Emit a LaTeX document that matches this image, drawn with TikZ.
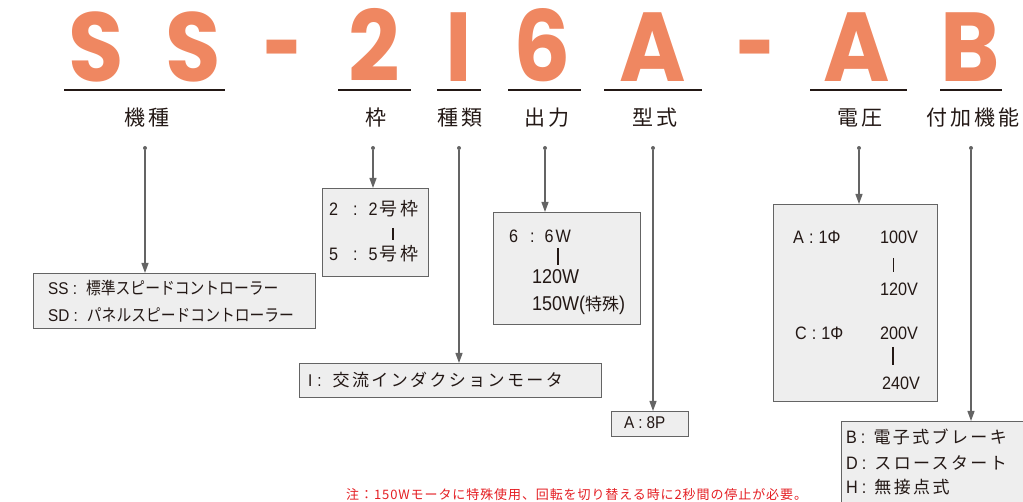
\documentclass[tikz,border=0pt]{standalone}
\usepackage{fontspec}
\setmainfont{Liberation Sans}[FakeStretch=0.9]
\newfontfamily\jp{Noto Sans CJK JP}
\newfontfamily\jpsp{Noto Sans CJK JP}[LetterSpace=14]
\newfontfamily\jpn{Noto Sans CJK JP}[FakeStretch=0.87]
\newfontfamily\jpnote{Noto Sans CJK JP}[LetterSpace=7]
\newfontfamily\codefont{Poppins}[FakeStretch=0.92]
\newcommand{\gap}{\hspace{3pt}}
\usetikzlibrary{arrows.meta,positioning}
\definecolor{codeorange}{RGB}{239,135,97}
\definecolor{boxgray}{RGB}{238,238,238}
\definecolor{linegray}{RGB}{100,100,100}
\definecolor{ink}{RGB}{35,24,21}
\definecolor{notered}{RGB}{228,30,35}
\tikzset{
  letter/.style={anchor=base, inner sep=0, text depth=0pt, text=codeorange, font=\codefont\bfseries\fontsize{98}{98}\selectfont},
  head/.style={inner sep=0, text=ink, font=\jp\fontsize{21}{21}\selectfont},
  uline/.style={line width=1.2pt, ink},
  conn/.style={line width=1.2pt, linegray, -{Triangle[length=10pt,width=7pt]}},
  pin/.style={circle, fill=linegray, inner sep=0, minimum size=4pt},
  codebox/.style={draw=linegray, fill=boxgray, line width=1.2pt, anchor=north west, inner sep=0},
  txt/.style={anchor=west, inner sep=0, text=ink, font=\fontsize{17}{17}\selectfont},
  bar/.style={line width=2.6pt, ink},
}
\begin{document}
\begin{tikzpicture}[x=1pt, y=-1pt]
\clip (0,0) rectangle (1023,502);
% model code
\node[letter] (s1) at (96,82) {S};
\node[letter] (s2) at (193,82) {S};
\node[letter] (dash1) at (283,82) {\scalebox{0.75}[1]{-}};
\node[letter] (frame) at (374,82) {2};
\node[letter] (kind) at (459,82) {I};
\node[letter] (power) at (542,82) {6};
\node[letter] (form) at (653,82) {A};
\node[letter] (dash2) at (756,82) {\scalebox{0.75}[1]{-}};
\node[letter] (volt) at (857,82) {A};
\node[letter] (extra) at (970,82) {B};
\draw[uline] (64,90) -- (225,90);
\draw[uline] (338,90) -- (411,90);
\draw[uline] (437,90) -- (481,90);
\draw[uline] (508,90) -- (581,90);
\draw[uline] (604,90) -- (702,90);
\draw[uline] (810,90) -- (907,90);
\draw[uline] (940,90) -- (1002,90);
% headings
\node[head] (h1) at (147,118) {機\gap 種};
\node[head] (h2) at (376,118) {枠};
\node[head] (h3) at (460,118) {種\gap 類};
\node[head] (h4) at (547,118) {出\gap 力};
\node[head] (h5) at (655,118) {型\gap 式};
\node[head] (h6) at (860,118) {電\gap 圧};
\node[head] (h7) at (973,118) {付\gap 加\gap 機\gap 能};
\node[pin] (p1) at (145,148) {};
\node[pin] (p2) at (373,148) {};
\node[pin] (p3) at (459,148) {};
\node[pin] (p4) at (545,148) {};
\node[pin] (p5) at (653,148) {};
\node[pin] (p6) at (859,148) {};
\node[pin] (p7) at (971,148) {};
% boxes
\node[codebox, minimum width=282pt, minimum height=55pt] (b1) at (33,273) {};
\node[codebox, minimum width=106pt, minimum height=88pt] (b2) at (322,188) {};
\node[codebox, minimum width=302pt, minimum height=34pt] (b3) at (299,363) {};
\node[codebox, minimum width=147pt, minimum height=112pt] (b4) at (493,212) {};
\node[codebox, minimum width=77pt, minimum height=25pt] (b5) at (611,411) {};
\node[codebox, minimum width=164pt, minimum height=197pt] (b6) at (773,204) {};
\node[codebox, minimum width=200pt, minimum height=100pt] (b7) at (841,421) {};
\draw[conn] (p1) -- (p1 |- b1.north);
\draw[conn] (p2) -- (p2 |- b2.north);
\draw[conn] (p3) -- (p3 |- b3.north);
\draw[conn] (p4) -- (p4 |- b4.north);
\draw[conn] (p5) -- (p5 |- b5.north);
\draw[conn] (p6) -- (p6 |- b6.north);
\draw[conn] (p7) -- (p7 |- b7.north);
% box texts
\node[txt] (t11) at (48,288) {SS :\hspace{9pt}{\jpn 標準スピードコントローラー}};
\node[txt] (t12) at (48,315) {SD :\hspace{9pt}{\jpn パネルスピードコントローラー}};
\node[txt, font=\fontsize{18}{18}\selectfont] (t21) at (329,209) {2\hspace{15pt}:\hspace{11pt}2\hspace{2pt}{\jpsp 号枠}};
\draw[bar] (393,228) -- (393,240);
\node[txt, font=\fontsize{18}{18}\selectfont] (t22) at (329,254) {5\hspace{15pt}:\hspace{11pt}5\hspace{2pt}{\jpsp 号枠}};
\node[txt] (t31) at (308,380) {I\hspace{5pt}:\hspace{11pt}{\jpsp 交流インダクションモータ}};
\node[txt, font=\fontsize{18}{18}\selectfont] (t41) at (509,236) {6\hspace{12pt}:\hspace{10pt}6\hspace{2pt}W};
\draw[bar] (558,248) -- (558,265);
\node[txt, font=\fontsize{20}{20}\selectfont] (t42) at (532,277) {120W};
\node[txt, font=\fontsize{20}{20}\selectfont] (t43) at (532,305) {150W({\jp\fontsize{17}{17}\selectfont 特殊})};
\node[txt] (t51) at (624,423) {A\hspace{4pt}:\hspace{4pt}8P};
\node[txt, font=\fontsize{18}{18}\selectfont] (t61) at (793,237) {A\hspace{5pt}:\hspace{5pt}1Φ};
\node[txt, font=\fontsize{18}{18}\selectfont] (t62) at (880,237) {100V};
\draw[line width=1pt, ink] (893,258) -- (893,272);
\node[txt, font=\fontsize{18}{18}\selectfont] (t63) at (880,289) {120V};
\node[txt, font=\fontsize{18}{18}\selectfont] (t64) at (795,333) {C\hspace{5pt}:\hspace{5pt}1Φ};
\node[txt, font=\fontsize{18}{18}\selectfont] (t65) at (880,333) {200V};
\draw[bar] (893,347) -- (893,365);
\node[txt, font=\fontsize{18}{18}\selectfont] (t66) at (882,383) {240V};
\node[txt, font=\fontsize{18}{18}\selectfont] (t71) at (846,437) {B\hspace{4pt}:\hspace{8pt}{\jpsp\fontsize{17}{17}\selectfont 電子式ブレーキ}};
\node[txt, font=\fontsize{18}{18}\selectfont] (t72) at (846,463) {D\hspace{4pt}:\hspace{8pt}{\jpsp\fontsize{17}{17}\selectfont スロースタート}};
\node[txt, font=\fontsize{18}{18}\selectfont] (t73) at (846,487) {H\hspace{4pt}:\hspace{8pt}{\jpsp\fontsize{17}{17}\selectfont 無接点式}};
% note
\node[txt, text=notered, font=\jpnote\fontsize{13}{13}\selectfont] (note) at (346,495) {注：150Wモータに特殊使用、回転を切り替える時に2秒間の停止が必要。};
\end{tikzpicture}
\end{document}
